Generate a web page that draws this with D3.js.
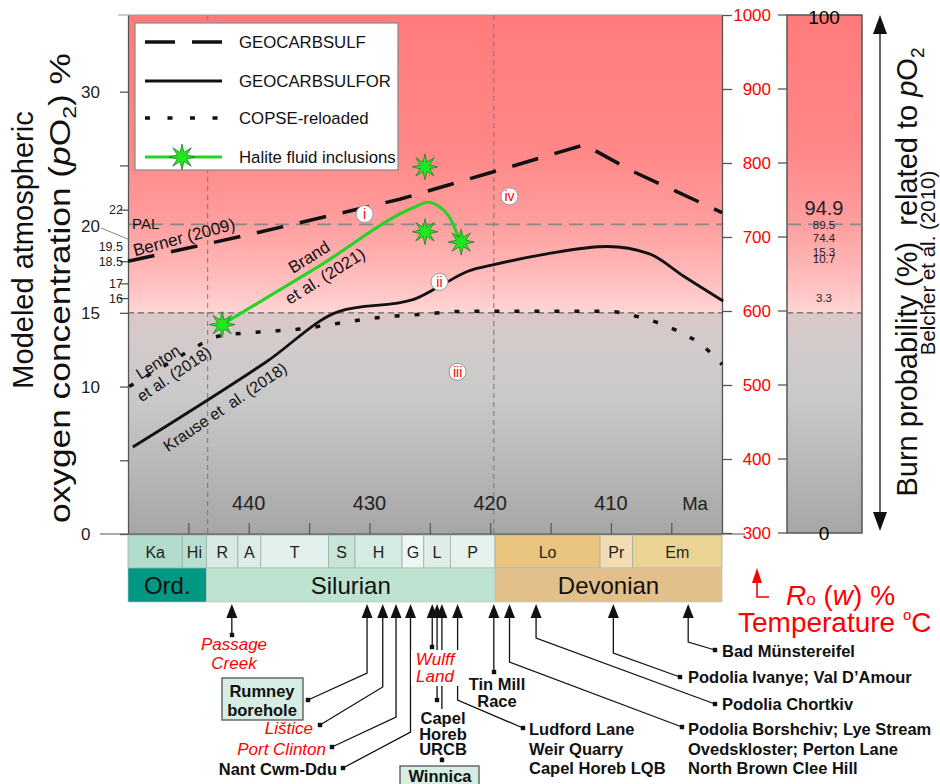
<!DOCTYPE html>
<html>
<head>
<meta charset="utf-8">
<script src="https://cdn.jsdelivr.net/npm/d3@7.9.0/dist/d3.min.js"></script>
<style>
  body { margin: 0; background: #fff; }
  svg { display: block; font-family: "Liberation Sans", Arial, sans-serif; }
</style>
</head>
<body>
<svg id="chart" width="940" height="784"></svg>
<script>
// model curves, [age Ma, pO2 %]
const geocarbsulf = [[450, 18.5], [440, 20.3], [427.5, 22.7], [420, 24.5], [412.2, 26.4], [408.2, 24.6], [400.8, 21.8]];
const geocarbsulfor = [[449.6, 5.9], [438.5, 11.7], [432.5, 15.1], [426.4, 15.9], [424.2, 16.8], [421.9, 17.8],
  [419.5, 18.3], [415.3, 19.0], [410.3, 19.5], [406.8, 19.0], [404.0, 17.5], [400.7, 15.8]];
const copseReloaded = [[449.9, 10.0], [446.8, 11.5], [443.9, 12.9], [442.6, 13.4], [439.1, 13.7], [435.8, 13.9],
  [432.5, 14.3], [429.0, 14.7], [425.6, 14.9], [422.3, 15.1], [410.3, 15.1], [407.6, 14.7], [404.3, 13.7],
  [402.6, 12.9], [400.8, 11.5]];
const haliteTrend = [[442.2, 14.2], [434.2, 18.15], [426.2, 22.2], [425.2, 22.5], [424.2, 22.2], [423.3, 21.4], [422.7, 20.3], [422.4, 19.8]];
const haliteInclusions = [[442.2, 14.2], [425.4, 24.9], [425.4, 20.5], [422.4, 19.8]];

// axes
const oxygenTicks = [0, 5, 10, 15, 16, 17, 18.5, 22, 25, 30];
const oxygenBigLabels = [0, 10, 15, 20, 30];
const oxygenSmallLabels = [22, 19.5, 18.5, 17, 16];
const palLevel = 21;
const lowLevel = 15;
const maLabels = [440, 430, 420, 410];
const maTicks = [445, 440, 435, 430, 425, 420, 415, 410, 405];
const tempTicks = [300, 400, 500, 600, 700, 800, 900, 1000];
const boundaryLines = [443.4, 419.7];

// burn probability (Belcher et al. 2010)
const burnValues = ['94.9', '89.5', '74.4', '15.3', '10.7', '3.3'];
const burnLevels = [22.1, 21.0, 20.1, 19.15, 18.65, 16.0];

// circled zone markers
const zoneNames = ['i', 'ii', 'iii', 'iv'];
const zoneAges = [430.4, 424.2, 422.7, 418.4];
const zoneLevels = [21.7, 17.1, 11.0, 22.9];

// timescale
const stageNames = ['Ka', 'Hi', 'R', 'A', 'T', 'S', 'H', 'G', 'L', 'P', 'Lo', 'Pr', 'Em'];
const stageBounds = [450, 445.5, 443.5, 440.9, 439.0, 433.4, 431.2, 427.3, 425.5, 423.3, 419.6, 410.9, 408.2, 400.8];
const stageColors = ['#b1dbca', '#b7dfce', '#d7ebe4', '#dbede6', '#e2f1eb', '#c7e4d6', '#d4ebe1', '#eef7f3',
  '#deeee7', '#e6f3ed', '#e9c47f', '#f3dcb4', '#ebd493'];
const periodNames = ['Ord.', 'Silurian', 'Devonian'];
const periodBounds = [450, 443.5, 419.6, 400.8];
const periodColors = ['#009883', '#bde2d0', '#e3bf8b'];

// sampled sites
const siteNames = [['Passage', 'Creek'], ['Rumney', 'borehole'], ['Lištice'], ['Port Clinton'], ['Nant Cwm-Ddu'],
  ['Wulff', 'Land'], ['Capel', 'Horeb', 'URCB'], ['Winnica'], ['Tin Mill', 'Race'],
  ['Ludford Lane', 'Weir Quarry', 'Capel Horeb LQB'],
  ['Podolia Borshchiv; Lye Stream', 'Ovedskloster; Perton Lane', 'North Brown Clee Hill'],
  ['Podolia Chortkiv'], ['Podolia Ivanye; Val D’Amour'], ['Bad Münstereifel']];
const siteAges = [441.4, 430.2, 428.9, 427.8, 426.6, 424.8, 424.4, 424.0, 419.7, 422.7, 418.4, 416.2, 409.8, 403.6];

const svg = d3.select('#chart');

const x = d3.scaleLinear().domain([450, 400.8]).range([128, 722]);
const y = d3.scaleLinear().domain([0, 35.2]).range([534, 15]);
const yTemp = d3.scaleLinear().domain([300, 1000]).range([533, 15]);

// background gradient
const defs = svg.append('defs');
const grad = defs.append('linearGradient').attr('id', 'bg')
  .attr('gradientUnits', 'userSpaceOnUse').attr('x1', 0).attr('x2', 0).attr('y1', 15).attr('y2', 534);
[[0, '#ff7b7b'], [0.26, '#ff8787'], [0.4, '#ff9e9e'], [0.51, '#ffbdbd'], [0.572, '#ffd5d5'],
 [0.574, '#dcc6c6'], [0.63, '#d3cbcb'], [0.74, '#c9c9c9'], [1, '#a6a6a6']]
  .forEach(([o, c]) => grad.append('stop').attr('offset', o).attr('stop-color', c));

svg.append('rect').attr('x', 128).attr('y', 15).attr('width', 594).attr('height', 519).attr('fill', 'url(#bg)');
svg.append('rect').attr('x', 787).attr('y', 15).attr('width', 75).attr('height', 518)
  .attr('fill', 'url(#bg)').attr('stroke', '#555').attr('stroke-width', 1.5);

// reference lines
svg.selectAll('.vline').data(boundaryLines).join('line')
  .attr('x1', d => x(d)).attr('x2', d => x(d)).attr('y1', 15).attr('y2', 534)
  .attr('stroke', '#777').attr('stroke-width', 1).attr('stroke-dasharray', '5,4');
[[palLevel, '#888', '14,7', 1.6], [lowLevel, '#666', '6,4', 1.3]].forEach(([v, c, dash, w]) => {
  [[128, 722], [787, 862]].forEach(([a, b]) => {
    svg.append('line').attr('x1', a).attr('x2', b).attr('y1', y(v)).attr('y2', y(v))
      .attr('stroke', c).attr('stroke-width', w).attr('stroke-dasharray', dash);
  });
});

// left axis
svg.append('g').attr('transform', 'translate(128,0)')
  .call(d3.axisLeft(y).tickValues(oxygenTicks).tickSize(8).tickSizeOuter(0).tickFormat(''))
  .call(g => g.selectAll('line,path').attr('stroke', '#555').attr('stroke-width', 1.3));
svg.append('line').attr('x1', 118).attr('x2', 722).attr('y1', 15).attr('y2', 15).attr('stroke', '#999');

svg.selectAll('.bigLab').data(oxygenBigLabels).join('text')
  .attr('x', 81).attr('y', d => d === 20 ? y(d) - 13 : y(d)).attr('dy', '0.36em')
  .style('font-size', '17px').attr('fill', '#222').text(d => d);
svg.append('line').attr('x1', 101).attr('y1', 228).attr('x2', 128).attr('y2', y(20))
  .attr('stroke', '#888').attr('stroke-width', 1);
svg.selectAll('.smallLab').data(oxygenSmallLabels).join('text')
  .attr('x', 123).attr('y', d => y(d)).attr('dy', '0.36em').attr('text-anchor', 'end')
  .style('font-size', '12.5px').attr('fill', '#222').text(d => d);

// bottom axis (age)
svg.append('g').attr('transform', 'translate(0,534)')
  .call(d3.axisBottom(x).tickValues(maTicks).tickSize(-11).tickSizeOuter(0).tickFormat(''))
  .call(g => g.selectAll('line,path').attr('stroke', '#555').attr('stroke-width', 1.2));
svg.append('line').attr('x1', 100).attr('x2', 745).attr('y1', 534).attr('y2', 534).attr('stroke', '#555').attr('stroke-width', 1.2);
svg.selectAll('.maLab').data(maLabels).join('text')
  .attr('x', d => x(d)).attr('y', 510).attr('text-anchor', 'middle').style('font-size', '20px').attr('fill', '#222').text(d => d);
svg.append('text').attr('x', 695).attr('y', 510).attr('text-anchor', 'middle').style('font-size', '18.5px').attr('fill', '#222').text('Ma');

// right temperature axis
svg.append('g').attr('transform', 'translate(722,0)')
  .call(d3.axisRight(yTemp).tickValues(tempTicks).tickSize(10).tickSizeOuter(0).tickFormat(''))
  .call(g => g.selectAll('line,path').attr('stroke', '#555').attr('stroke-width', 1.3));
svg.selectAll('.tempTick').data(tempTicks).join('line')
  .attr('x1', 778).attr('x2', 787).attr('y1', d => yTemp(d)).attr('y2', d => yTemp(d))
  .attr('stroke', '#555').attr('stroke-width', 1.3);
svg.selectAll('.tempLab').data(tempTicks).join('text')
  .attr('x', 771).attr('y', d => yTemp(d)).attr('dy', '0.36em').attr('text-anchor', 'end')
  .style('font-size', '17px').attr('fill', '#ff0000').text(d => d);

// burn probability panel
svg.append('text').attr('x', 824).attr('y', 24).attr('text-anchor', 'middle').style('font-size', '19px').text('100');
svg.append('text').attr('x', 824).attr('y', 540).attr('text-anchor', 'middle').style('font-size', '19px').text('0');
svg.selectAll('.burn').data(burnValues).join('text')
  .attr('x', 824).attr('y', (d, i) => y(burnLevels[i])).attr('dy', '0.36em').attr('text-anchor', 'middle')
  .style('font-size', (d, i) => i === 0 ? '20px' : '11.5px').attr('fill', '#222').text(d => d);

// double arrow + side titles
svg.append('line').attr('x1', 880).attr('x2', 880).attr('y1', 28).attr('y2', 518).attr('stroke', '#111').attr('stroke-width', 1.3);
svg.append('path').attr('d', 'M880,15 L873,34 L887,34 Z M880,531 L873,512 L887,512 Z').attr('fill', '#111');
const burnTitle = svg.append('text').attr('transform', 'translate(917,272) rotate(-90)')
  .attr('text-anchor', 'middle').style('font-size', '29px').attr('fill', '#111');
burnTitle.append('tspan').text('Burn probability (%)\u00a0 related to ');
burnTitle.append('tspan').style('font-style', 'italic').text('p');
burnTitle.append('tspan').text('O');
burnTitle.append('tspan').attr('dy', 7).style('font-size', '19px').text('2');
svg.append('text').attr('transform', 'translate(935,263) rotate(-90)').attr('text-anchor', 'middle')
  .style('font-size', '20.5px').attr('fill', '#111').text('Belcher et al. (2010)');

// left axis title
svg.append('text').attr('transform', 'translate(33,250) rotate(-90)').attr('text-anchor', 'middle')
  .style('font-size', '29px').attr('fill', '#111').text('Modeled atmospheric');
const oxTitle = svg.append('text').attr('transform', 'translate(70,288) rotate(-90)').attr('text-anchor', 'middle')
  .style('font-size', '29px').attr('fill', '#111')
  .attr('textLength', 470).attr('lengthAdjust', 'spacingAndGlyphs');
oxTitle.append('tspan').text('oxygen concentration (');
oxTitle.append('tspan').style('font-style', 'italic').text('p');
oxTitle.append('tspan').text('O');
oxTitle.append('tspan').attr('dy', 6).style('font-size', '19px').text('2');
oxTitle.append('tspan').attr('dy', -6).text(') %');

// curves
const line = d3.line().x(d => x(d[0])).y(d => y(d[1]));
const smooth = d3.line().x(d => x(d[0])).y(d => y(d[1])).curve(d3.curveMonotoneX);

svg.append('path').datum(copseReloaded).attr('d', smooth).attr('fill', 'none')
  .attr('stroke', '#111').attr('stroke-width', 3.5).attr('stroke-dasharray', '5,15');
svg.append('path').datum(geocarbsulf).attr('d', line).attr('fill', 'none')
  .attr('stroke', '#111').attr('stroke-width', 3.5).attr('stroke-dasharray', '27,17');
svg.append('path').datum(geocarbsulfor).attr('d', smooth).attr('fill', 'none')
  .attr('stroke', '#111').attr('stroke-width', 2.8);
svg.append('path').datum(haliteTrend).attr('d', smooth).attr('fill', 'none')
  .attr('stroke', '#26d426').attr('stroke-width', 3.2);

const starPath = d3.lineRadial().curve(d3.curveLinearClosed)(d3.range(16).map(i => [i * Math.PI / 8, i % 2 ? 5 : 13]));
svg.selectAll('.star').data(haliteInclusions).join('path')
  .attr('d', starPath).attr('transform', d => `translate(${x(d[0])},${y(d[1])})`)
  .attr('fill', '#1fe81f').attr('stroke', '#2a7a2a').attr('stroke-width', 0.8);

// curve annotations
function rotText(txt, cx, cy, angle, size) {
  return svg.append('text').attr('transform', `translate(${cx},${cy}) rotate(${angle})`)
    .attr('text-anchor', 'middle').attr('dy', '0.35em').style('font-size', size + 'px').attr('fill', '#111').text(txt);
}
svg.append('text').attr('x', 132).attr('y', 229).style('font-size', '15px').attr('fill', '#111').text('PAL');
rotText('Berner (2009)', 184, 237, -15, 17);
rotText('Brand', 309, 257, -32, 17);
rotText('et al. (2021)', 325, 276, -32, 17);
rotText('Lenton', 158, 362, -33, 16);
rotText('et al. (2018)', 174, 374, -34, 16);
rotText('Krause et\u00a0 al. (2018)', 225, 407, -34, 16);

zoneNames.forEach((t, i) => {
  const cx = x(zoneAges[i]), cy = y(zoneLevels[i]);
  svg.append('circle').attr('cx', cx).attr('cy', cy).attr('r', 8.5).attr('fill', '#fff').attr('stroke', '#999');
  svg.append('text').attr('x', cx).attr('y', cy).attr('dy', '0.36em').attr('text-anchor', 'middle')
    .style('font-size', '14px').attr('fill', '#ff0000').text(t);
});

// legend
const leg = svg.append('g');
leg.append('rect').attr('x', 135).attr('y', 23).attr('width', 263).attr('height', 147)
  .attr('fill', '#fff').attr('stroke', '#888').attr('stroke-width', 1.2);
const legItems = [
  { label: 'GEOCARBSULF', y: 42, dash: '30,17', w: 3.5, c: '#111' },
  { label: 'GEOCARBSULFOR', y: 81, dash: null, w: 3, c: '#111' },
  { label: 'COPSE-reloaded', y: 118, dash: '5,17.5', w: 3.5, c: '#111' },
  { label: 'Halite fluid inclusions', y: 157, dash: null, w: 3.2, c: '#26d426' }
];
legItems.forEach(it => {
  leg.append('line').attr('x1', 145).attr('x2', 222).attr('y1', it.y).attr('y2', it.y)
    .attr('stroke', it.c).attr('stroke-width', it.w).attr('stroke-dasharray', it.dash);
  leg.append('text').attr('x', 239).attr('y', it.y).attr('dy', '0.36em').style('font-size', '16.8px').attr('fill', '#111').text(it.label);
});
leg.append('path').attr('d', starPath).attr('transform', 'translate(182,157)')
  .attr('fill', '#1fe81f').attr('stroke', '#2a7a2a').attr('stroke-width', 0.8);

// timescale bars
const stageG = svg.append('g');
stageNames.forEach((n, i) => {
  const x0 = x(stageBounds[i]), x1 = x(stageBounds[i + 1]);
  stageG.append('rect').attr('x', x0).attr('y', 535).attr('width', x1 - x0).attr('height', 33)
    .attr('fill', stageColors[i]).attr('stroke', '#9fb0a8').attr('stroke-width', 0.8);
  stageG.append('text').attr('x', (x0 + x1) / 2).attr('y', 552).attr('dy', '0.36em').attr('text-anchor', 'middle')
    .style('font-size', '16px').attr('fill', '#222').text(n);
});
periodNames.forEach((n, i) => {
  const x0 = x(periodBounds[i]), x1 = x(periodBounds[i + 1]);
  stageG.append('rect').attr('x', x0).attr('y', 568).attr('width', x1 - x0).attr('height', 34)
    .attr('fill', periodColors[i]).attr('stroke', '#b5c2bb').attr('stroke-width', 0.6);
  stageG.append('text').attr('x', (x0 + x1) / 2).attr('y', 585).attr('dy', '0.36em').attr('text-anchor', 'middle')
    .style('font-size', '24px').attr('fill', '#111').text(n);
});

// Ro / temperature title with red arrow
svg.append('path').attr('d', 'M757,582 L757,597 L769,597').attr('fill', 'none').attr('stroke', '#ff0000').attr('stroke-width', 1.6);
svg.append('path').attr('d', 'M757,568 L752,583 L762,583 Z').attr('fill', '#ff0000');
const ro = svg.append('text').attr('x', 786).attr('y', 605).style('font-size', '28px').attr('fill', '#ff0000');
ro.append('tspan').style('font-style', 'italic').text('R');
ro.append('tspan').style('font-size', '17px').text('o');
ro.append('tspan').text(' (');
ro.append('tspan').style('font-style', 'italic').text('w');
ro.append('tspan').text(') %');
const temp = svg.append('text').attr('x', 738).attr('y', 632).style('font-size', '28px').attr('fill', '#ff0000');
temp.append('tspan').text('Temperature ');
temp.append('tspan').attr('dy', -12).style('font-size', '15px').text('o');
temp.append('tspan').attr('dy', 12).text('C');

// site arrows
const siteLayout = [
  { elbow: null, dot: [232, 635], lx: 234, ly: 650, step: 19, anchor: 'middle', kind: 'red' },
  { elbow: 673, dot: [308, 700], lx: 262, ly: 697, step: 19, anchor: 'middle', kind: 'box', box: [222, 678, 81, 42] },
  { elbow: 687, dot: [320, 725], lx: 313, ly: 734, step: 19, anchor: 'end', kind: 'red' },
  { elbow: 717, dot: [332, 747], lx: 326, ly: 755, step: 19, anchor: 'end', kind: 'red' },
  { elbow: 732, dot: [343, 768], lx: 337, ly: 775, step: 19, anchor: 'end', kind: 'bold' },
  { elbow: null, dot: [432, 647], lx: 435, ly: 665, step: 17, anchor: 'middle', kind: 'red', mask: [411, 650, 48, 36] },
  { elbow: null, dot: [437, 700], lx: 443, ly: 724, step: 15.5, anchor: 'middle', kind: 'bold', mask: [418, 709, 52, 48] },
  { elbow: null, dot: [442, 760], lx: 440, ly: 782, step: 19, anchor: 'middle', kind: 'box', box: [400, 766, 79, 26] },
  { elbow: null, dot: [494, 672], lx: 497, ly: 690, step: 17, anchor: 'middle', kind: 'bold' },
  { elbow: 700, dot: [523, 728], lx: 529, ly: 735, step: 19.5, anchor: 'start', kind: 'bold' },
  { elbow: 662, dot: [682, 727], lx: 688, ly: 735, step: 19.5, anchor: 'start', kind: 'bold' },
  { elbow: 638, dot: [715, 704], lx: 722, ly: 710, step: 19, anchor: 'start', kind: 'bold' },
  { elbow: 653, dot: [680, 677], lx: 688, ly: 683, step: 19, anchor: 'start', kind: 'bold' },
  { elbow: 642, dot: [715, 650], lx: 722, ly: 657, step: 19, anchor: 'start', kind: 'bold' }
];

const siteG = svg.append('g');
siteAges.forEach((age, i) => {
  const L = siteLayout[i], sx = x(age);
  const pts = [[sx, 612]];
  if (L.elbow !== null) pts.push([sx, L.elbow]);
  else pts.push([sx, L.dot[1]]);
  pts.push(L.dot);
  siteG.append('path').attr('d', d3.line()(pts)).attr('fill', 'none').attr('stroke', '#111').attr('stroke-width', 1.3);
  siteG.append('path').attr('d', `M${sx},604 L${sx - 5.5},618 L${sx + 5.5},618 Z`).attr('fill', '#111');
  siteG.append('rect').attr('x', L.dot[0] - 2.2).attr('y', L.dot[1] - 2.2).attr('width', 4.4).attr('height', 4.4).attr('fill', '#111');
});
siteAges.forEach((age, i) => {
  const L = siteLayout[i];
  if (L.mask) siteG.append('rect').attr('x', L.mask[0]).attr('y', L.mask[1]).attr('width', L.mask[2]).attr('height', L.mask[3]).attr('fill', '#fff');
  if (L.box) siteG.append('rect').attr('x', L.box[0]).attr('y', L.box[1]).attr('width', L.box[2]).attr('height', L.box[3])
    .attr('fill', '#d6ede3').attr('stroke', '#555').attr('stroke-width', 1.3);
  const t = siteG.append('text').attr('x', L.lx).attr('y', L.ly).attr('text-anchor', L.anchor)
    .style('font-size', L.kind === 'red' ? '17px' : '16.5px')
    .style('font-weight', L.kind === 'red' ? 'normal' : 'bold')
    .style('font-style', L.kind === 'red' ? 'italic' : 'normal')
    .attr('fill', L.kind === 'red' ? '#ff0000' : '#111');
  siteNames[i].forEach((s, j) => t.append('tspan').attr('x', L.lx).attr('dy', j ? L.step : 0).text(s));
});
</script>
</body>
</html>
